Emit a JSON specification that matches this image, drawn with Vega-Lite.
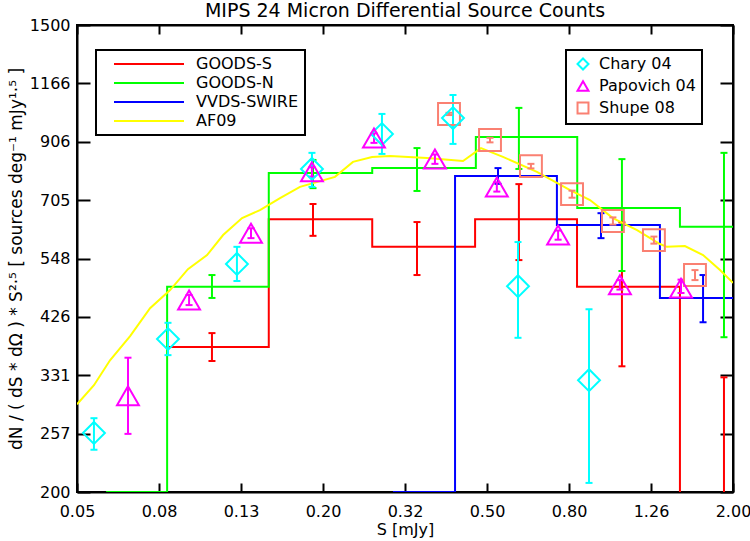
{
  "$schema": "https://vega.github.io/schema/vega-lite/v6.json",
  "width": 656,
  "height": 467,
  "autosize": {"type": "none"},
  "padding": {"left": 77, "top": 25, "right": 17, "bottom": 49},
  "background": "white",
  "title": {"text": "MIPS 24 Micron Differential Source Counts", "font": "DejaVu Sans", "fontSize": 19, "fontWeight": "normal", "color": "#000000", "anchor": "middle", "offset": -4},
  "config": {
    "view": {"stroke": "#000000", "strokeWidth": 2},
    "axis": {"domain": true, "domainColor": "#000000", "domainWidth": 2, "tickColor": "#000000", "tickWidth": 2, "labelFont": "DejaVu Sans", "labelFontSize": 16, "labelColor": "#000000", "titleFont": "DejaVu Sans", "titleFontSize": 16, "titleFontWeight": "normal", "titleColor": "#000000", "grid": false, "labelFlush": false, "labelOverlap": false},
    "legend": {"strokeColor": "#000000", "strokeWidth": 2, "fillColor": "white", "padding": 6, "rowPadding": 3, "labelFont": "DejaVu Sans", "labelFontSize": 16, "labelColor": "#000000", "symbolStrokeWidth": 2}
  },
  "datasets": {
    "steps": [
      {"series": "GOODS-S", "S": 0.083, "N": 374},
      {"series": "GOODS-S", "S": 0.147, "N": 649},
      {"series": "GOODS-S", "S": 0.263, "N": 576},
      {"series": "GOODS-S", "S": 0.469, "N": 649},
      {"series": "GOODS-S", "S": 0.832, "N": 485},
      {"series": "GOODS-S", "S": 1.484, "N": 100},
      {"series": "GOODS-S", "S": 2.0, "N": 100},
      {"series": "GOODS-N", "S": 0.0589, "N": 200},
      {"series": "GOODS-N", "S": 0.083, "N": 485},
      {"series": "GOODS-N", "S": 0.147, "N": 792},
      {"series": "GOODS-N", "S": 0.263, "N": 809},
      {"series": "GOODS-N", "S": 0.471, "N": 925},
      {"series": "GOODS-N", "S": 0.833, "N": 681},
      {"series": "GOODS-N", "S": 1.484, "N": 628},
      {"series": "GOODS-N", "S": 2.0, "N": 628},
      {"series": "VVDS-SWIRE", "S": 0.2955, "N": 200},
      {"series": "VVDS-SWIRE", "S": 0.419, "N": 782},
      {"series": "VVDS-SWIRE", "S": 0.743, "N": 633},
      {"series": "VVDS-SWIRE", "S": 1.326, "N": 462},
      {"series": "VVDS-SWIRE", "S": 2.0, "N": 462}
    ],
    "errs": [
      {"series": "GOODS-S", "S": 0.1068, "lo": 352, "hi": 397},
      {"series": "GOODS-S", "S": 0.1885, "lo": 604, "hi": 693},
      {"series": "GOODS-S", "S": 0.3383, "lo": 510, "hi": 641},
      {"series": "GOODS-S", "S": 0.600, "lo": 544, "hi": 755},
      {"series": "GOODS-S", "S": 1.071, "lo": 344, "hi": 640},
      {"series": "GOODS-S", "S": 1.901, "lo": 100, "hi": 328},
      {"series": "GOODS-N", "S": 0.1068, "lo": 462, "hi": 510},
      {"series": "GOODS-N", "S": 0.1885, "lo": 742, "hi": 838},
      {"series": "GOODS-N", "S": 0.3383, "lo": 733, "hi": 882},
      {"series": "GOODS-N", "S": 0.600, "lo": 806, "hi": 1049},
      {"series": "GOODS-N", "S": 1.071, "lo": 519, "hi": 841},
      {"series": "GOODS-N", "S": 1.901, "lo": 390, "hi": 864},
      {"series": "VVDS-SWIRE", "S": 0.5335, "lo": 756, "hi": 809},
      {"series": "VVDS-SWIRE", "S": 0.952, "lo": 598, "hi": 666},
      {"series": "VVDS-SWIRE", "S": 1.690, "lo": 416, "hi": 510}
    ],
    "af09": [
      {"series": "AF09", "S": 0.05, "N": 292},
      {"series": "AF09", "S": 0.0550, "N": 317},
      {"series": "AF09", "S": 0.0602, "N": 353},
      {"series": "AF09", "S": 0.0674, "N": 392},
      {"series": "AF09", "S": 0.0754, "N": 442},
      {"series": "AF09", "S": 0.0844, "N": 478},
      {"series": "AF09", "S": 0.0933, "N": 523},
      {"series": "AF09", "S": 0.1039, "N": 556},
      {"series": "AF09", "S": 0.1137, "N": 606},
      {"series": "AF09", "S": 0.1265, "N": 652},
      {"series": "AF09", "S": 0.1399, "N": 675},
      {"series": "AF09", "S": 0.1566, "N": 711},
      {"series": "AF09", "S": 0.1752, "N": 746},
      {"series": "AF09", "S": 0.2133, "N": 779},
      {"series": "AF09", "S": 0.2360, "N": 831},
      {"series": "AF09", "S": 0.2627, "N": 849},
      {"series": "AF09", "S": 0.2906, "N": 852},
      {"series": "AF09", "S": 0.3579, "N": 845},
      {"series": "AF09", "S": 0.4382, "N": 834},
      {"series": "AF09", "S": 0.4848, "N": 882},
      {"series": "AF09", "S": 0.5486, "N": 849},
      {"series": "AF09", "S": 0.664, "N": 796},
      {"series": "AF09", "S": 0.800, "N": 736},
      {"series": "AF09", "S": 0.895, "N": 705},
      {"series": "AF09", "S": 1.018, "N": 652},
      {"series": "AF09", "S": 1.166, "N": 619},
      {"series": "AF09", "S": 1.326, "N": 583},
      {"series": "AF09", "S": 1.379, "N": 576},
      {"series": "AF09", "S": 1.526, "N": 578},
      {"series": "AF09", "S": 1.690, "N": 556},
      {"series": "AF09", "S": 1.859, "N": 521},
      {"series": "AF09", "S": 2.0, "N": 493}
    ],
    "pts": [
      {"survey": "Shupe 08", "S": 0.405, "N": 1022, "lo": 1017, "hi": 1027},
      {"survey": "Shupe 08", "S": 0.510, "N": 913, "lo": 904, "hi": 922},
      {"survey": "Shupe 08", "S": 0.642, "N": 816, "lo": 808, "hi": 824},
      {"survey": "Shupe 08", "S": 0.809, "N": 723, "lo": 712, "hi": 734},
      {"survey": "Shupe 08", "S": 1.018, "N": 644, "lo": 634, "hi": 654},
      {"survey": "Shupe 08", "S": 1.282, "N": 593, "lo": 584, "hi": 602},
      {"survey": "Shupe 08", "S": 1.615, "N": 510, "lo": 499, "hi": 521},
      {"survey": "Chary 04", "S": 0.0550, "N": 258, "lo": 240, "hi": 275},
      {"survey": "Chary 04", "S": 0.0834, "N": 387, "lo": 361, "hi": 415},
      {"survey": "Chary 04", "S": 0.1229, "N": 535, "lo": 497, "hi": 576},
      {"survey": "Chary 04", "S": 0.1874, "N": 806, "lo": 746, "hi": 864},
      {"survey": "Chary 04", "S": 0.2778, "N": 937, "lo": 860, "hi": 1022},
      {"survey": "Chary 04", "S": 0.4142, "N": 1004, "lo": 898, "hi": 1109},
      {"survey": "Chary 04", "S": 0.597, "N": 486, "lo": 389, "hi": 588},
      {"survey": "Chary 04", "S": 0.890, "N": 324, "lo": 208, "hi": 440},
      {"survey": "Papovich 04", "S": 0.0666, "N": 303, "lo": 257, "hi": 357},
      {"survey": "Papovich 04", "S": 0.0939, "N": 458, "lo": 448, "hi": 468},
      {"survey": "Papovich 04", "S": 0.1330, "N": 611, "lo": 598, "hi": 624},
      {"survey": "Papovich 04", "S": 0.1874, "N": 796, "lo": 780, "hi": 812},
      {"survey": "Papovich 04", "S": 0.2656, "N": 921, "lo": 902, "hi": 940},
      {"survey": "Papovich 04", "S": 0.3742, "N": 841, "lo": 824, "hi": 858},
      {"survey": "Papovich 04", "S": 0.530, "N": 746, "lo": 731, "hi": 761},
      {"survey": "Papovich 04", "S": 0.748, "N": 606, "lo": 594, "hi": 618},
      {"survey": "Papovich 04", "S": 1.059, "N": 489, "lo": 479, "hi": 499},
      {"survey": "Papovich 04", "S": 1.493, "N": 482, "lo": 472, "hi": 500}
    ]
  },
  "layer": [
    {
      "data": {"name": "steps"},
      "mark": {"type": "line", "interpolate": "step-after", "strokeWidth": 2, "clip": true},
      "encoding": {
        "x": {"field": "S", "type": "quantitative", "scale": {"type": "log", "domain": [0.05, 2.0], "nice": false},
              "axis": {"orient": "bottom", "values": [0.05, 0.07929, 0.12574, 0.19940, 0.31623, 0.50149, 0.79527, 1.26115, 2.0], "format": ".2f", "tickSize": -9, "labelPadding": 20, "title": "S [mJy]", "titlePadding": 2}},
        "y": {"field": "N", "type": "quantitative", "scale": {"type": "log", "domain": [200, 1500], "nice": false},
              "axis": {"orient": "left", "values": [200, 257.28, 330.97, 425.76, 547.72, 704.59, 906.39, 1165.98, 1500], "format": ".0f", "tickSize": -13, "labelPadding": 20, "title": "dN / ( dS * dΩ ) * S²·⁵ [ sources deg⁻¹ mJy¹·⁵ ]", "titleFontSize": 17, "titlePadding": 4}},
        "stroke": {"field": "series", "type": "nominal",
                   "scale": {"domain": ["GOODS-S", "GOODS-N", "VVDS-SWIRE", "AF09"], "range": ["#ff0000", "#00ff00", "#0000ff", "#ffff00"]},
                   "legend": {"orient": "none", "legendX": 19, "legendY": 25, "title": null, "symbolType": "M-7,0H7", "symbolSize": 100, "symbolStrokeWidth": 2, "symbolOffset": 39, "labelOffset": 39}}
      }
    },
    {
      "data": {"name": "errs"},
      "mark": {"type": "rule", "strokeWidth": 2, "clip": true},
      "encoding": {
        "x": {"field": "S", "type": "quantitative", "scale": {"type": "log", "domain": [0.05, 2.0], "nice": false},
              "axis": {"orient": "top", "values": [0.05, 0.07929, 0.12574, 0.19940, 0.31623, 0.50149, 0.79527, 1.26115, 2.0], "labels": false, "tickSize": -9, "title": null}},
        "y": {"field": "lo", "type": "quantitative", "scale": {"type": "log", "domain": [200, 1500], "nice": false},
              "axis": {"orient": "right", "values": [200, 257.28, 330.97, 425.76, 547.72, 704.59, 906.39, 1165.98, 1500], "labels": false, "tickSize": -13, "title": null}},
        "y2": {"field": "hi"},
        "stroke": {"field": "series", "type": "nominal", "legend": null}
      }
    },
    {
      "data": {"name": "errs"},
      "mark": {"type": "point", "shape": "stroke", "size": 49, "strokeWidth": 2, "filled": false, "opacity": 1, "clip": true},
      "encoding": {
        "x": {"field": "S", "type": "quantitative", "scale": {"type": "log", "domain": [0.05, 2.0], "nice": false}, "axis": null},
        "y": {"field": "lo", "type": "quantitative", "scale": {"type": "log", "domain": [200, 1500], "nice": false}, "axis": null},
        "stroke": {"field": "series", "type": "nominal", "legend": null}
      }
    },
    {
      "data": {"name": "errs"},
      "mark": {"type": "point", "shape": "stroke", "size": 49, "strokeWidth": 2, "filled": false, "opacity": 1, "clip": true},
      "encoding": {
        "x": {"field": "S", "type": "quantitative", "scale": {"type": "log", "domain": [0.05, 2.0], "nice": false}, "axis": null},
        "y": {"field": "hi", "type": "quantitative", "scale": {"type": "log", "domain": [200, 1500], "nice": false}, "axis": null},
        "stroke": {"field": "series", "type": "nominal", "legend": null}
      }
    },
    {
      "data": {"name": "af09"},
      "mark": {"type": "line", "strokeWidth": 2, "clip": true},
      "encoding": {
        "x": {"field": "S", "type": "quantitative", "scale": {"type": "log", "domain": [0.05, 2.0], "nice": false}, "axis": null},
        "y": {"field": "N", "type": "quantitative", "scale": {"type": "log", "domain": [200, 1500], "nice": false}, "axis": null},
        "stroke": {"field": "series", "type": "nominal", "legend": null}
      }
    },
    {
      "data": {"name": "pts"},
      "mark": {"type": "rule", "strokeWidth": 2, "clip": true},
      "encoding": {
        "x": {"field": "S", "type": "quantitative", "scale": {"type": "log", "domain": [0.05, 2.0], "nice": false}, "axis": null},
        "y": {"field": "lo", "type": "quantitative", "scale": {"type": "log", "domain": [200, 1500], "nice": false}, "axis": null},
        "y2": {"field": "hi"},
        "color": {"field": "survey", "type": "nominal"}
      }
    },
    {
      "data": {"name": "pts"},
      "mark": {"type": "point", "shape": "stroke", "size": 49, "strokeWidth": 2, "filled": false, "opacity": 1, "clip": true},
      "encoding": {
        "x": {"field": "S", "type": "quantitative", "scale": {"type": "log", "domain": [0.05, 2.0], "nice": false}, "axis": null},
        "y": {"field": "lo", "type": "quantitative", "scale": {"type": "log", "domain": [200, 1500], "nice": false}, "axis": null},
        "color": {"field": "survey", "type": "nominal"}
      }
    },
    {
      "data": {"name": "pts"},
      "mark": {"type": "point", "shape": "stroke", "size": 49, "strokeWidth": 2, "filled": false, "opacity": 1, "clip": true},
      "encoding": {
        "x": {"field": "S", "type": "quantitative", "scale": {"type": "log", "domain": [0.05, 2.0], "nice": false}, "axis": null},
        "y": {"field": "hi", "type": "quantitative", "scale": {"type": "log", "domain": [200, 1500], "nice": false}, "axis": null},
        "color": {"field": "survey", "type": "nominal"}
      }
    },
    {
      "data": {"name": "pts"},
      "mark": {"type": "point", "size": 480, "strokeWidth": 2, "filled": false, "opacity": 1},
      "encoding": {
        "x": {"field": "S", "type": "quantitative", "scale": {"type": "log", "domain": [0.05, 2.0], "nice": false}, "axis": null},
        "y": {"field": "N", "type": "quantitative", "scale": {"type": "log", "domain": [200, 1500], "nice": false}, "axis": null},
        "color": {"field": "survey", "type": "nominal",
                  "scale": {"domain": ["Chary 04", "Papovich 04", "Shupe 08"], "range": ["#00ffff", "#ff00ff", "#fa8072"]},
                  "legend": {"orient": "none", "legendX": 489, "legendY": 25, "title": null, "symbolSize": 120, "symbolStrokeWidth": 2, "symbolOffset": 3, "labelOffset": 8}},
        "shape": {"field": "survey", "type": "nominal",
                  "scale": {"domain": ["Chary 04", "Papovich 04", "Shupe 08"], "range": ["diamond", "triangle-up", "square"]},
                  "legend": {"orient": "none", "legendX": 489, "legendY": 25, "title": null, "symbolSize": 120, "symbolStrokeWidth": 2, "symbolOffset": 3, "labelOffset": 8}}
      }
    }
  ],
  "resolve": {"axis": {"x": "independent", "y": "independent"}}
}
